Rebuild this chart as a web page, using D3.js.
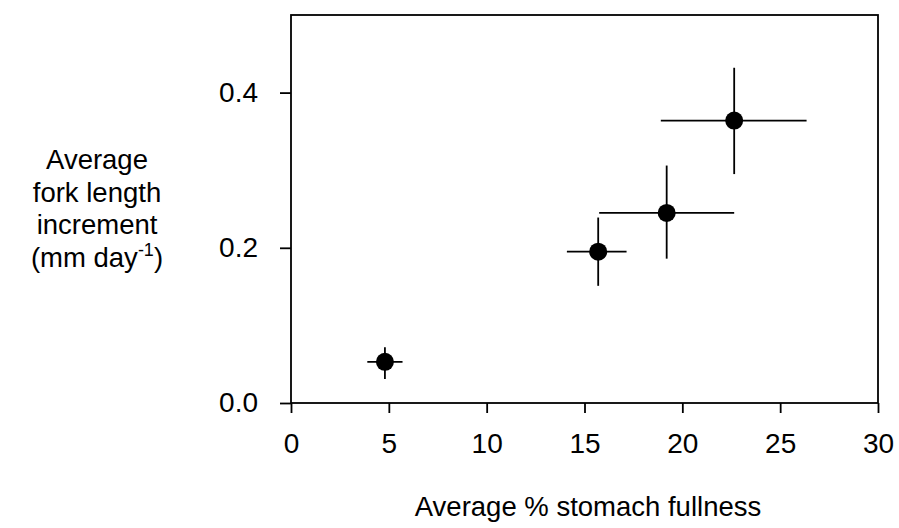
<!DOCTYPE html>
<html><head><meta charset="utf-8">
<script src="https://cdn.jsdelivr.net/npm/d3@7"></script>
<style>body{margin:0;background:#fff}svg{display:block}text{font-family:"Liberation Sans",Arial,sans-serif;fill:#000}</style>
</head><body>
<svg id="c" width="899" height="528"></svg>
<script>
const fullness = [4.8, 15.7, 19.2, 22.65];
const fullnessLow = [3.9, 14.1, 15.75, 18.9];
const fullnessHigh = [5.7, 17.15, 22.65, 26.35];
const increment = [0.053, 0.195, 0.245, 0.364];
const incrementLow = [0.031, 0.151, 0.186, 0.295];
const incrementHigh = [0.072, 0.239, 0.306, 0.432];
const xTicks = [0, 5, 10, 15, 20, 25, 30];
const yTicks = [0.0, 0.2, 0.4];

const svg = d3.select("#c");
const L = 291, R = 878, T = 15, B = 403;
const FONT = '"Liberation Sans",Arial,sans-serif';
const x = d3.scaleLinear().domain([0, 30]).range([L, R]);
const y = d3.scaleLinear().domain([0, 0.5]).range([B, T]);

// frame
svg.append("rect").attr("x", L).attr("y", T).attr("width", R - L).attr("height", B - T)
  .attr("fill", "none").attr("stroke", "#000").attr("stroke-width", 1.8);

const xAxis = svg.append("g").attr("transform", `translate(0,${B})`)
  .call(d3.axisBottom(x).tickValues(xTicks).tickSize(10).tickPadding(20).tickFormat(d3.format("d")));
const yAxis = svg.append("g").attr("transform", `translate(${L},0)`)
  .call(d3.axisLeft(y).tickValues(yTicks).tickSize(11).tickPadding(22).tickFormat(d3.format(".1f")));
[xAxis, yAxis].forEach(g => {
  g.select(".domain").remove();
  g.selectAll("line").attr("stroke", "#000").attr("stroke-width", 1.8);
  g.selectAll("text").style("font-family", FONT).style("font-size", "28px").attr("fill", "#000");
});

const data = fullness.map((v, i) => ({x: v, xl: fullnessLow[i], xh: fullnessHigh[i], y: increment[i], yl: incrementLow[i], yh: incrementHigh[i]}));
const g = svg.append("g");
g.selectAll(".h").data(data).join("line")
  .attr("x1", d => x(d.xl)).attr("x2", d => x(d.xh)).attr("y1", d => y(d.y)).attr("y2", d => y(d.y))
  .attr("stroke", "#000").attr("stroke-width", 1.8);
g.selectAll(".v").data(data).join("line")
  .attr("x1", d => x(d.x)).attr("x2", d => x(d.x)).attr("y1", d => y(d.yl)).attr("y2", d => y(d.yh))
  .attr("stroke", "#000").attr("stroke-width", 1.8);
g.selectAll("circle").data(data).join("circle")
  .attr("cx", d => x(d.x)).attr("cy", d => y(d.y)).attr("r", 9).attr("fill", "#000");

svg.append("text").attr("x", 588).attr("y", 516).attr("text-anchor", "middle")
  .style("font-family", FONT).style("font-size", "27.5px").text("Average % stomach fullness");

const cx = 97;
const yt = svg.append("text").attr("text-anchor", "middle").style("font-family", FONT).style("font-size", "27.5px");
yt.append("tspan").attr("x", cx).attr("y", 169).text("Average");
yt.append("tspan").attr("x", cx).attr("y", 202).text("fork length");
yt.append("tspan").attr("x", cx).attr("y", 234).text("increment");
const l4 = svg.append("text").attr("x", cx).attr("y", 267).attr("text-anchor", "middle").style("font-family", FONT).style("font-size", "27.5px");
l4.append("tspan").text("(mm day");
l4.append("tspan").attr("dy", -11).style("font-size", "18px").text("-1");
l4.append("tspan").attr("dy", 11).text(")");
</script>
</body></html>
